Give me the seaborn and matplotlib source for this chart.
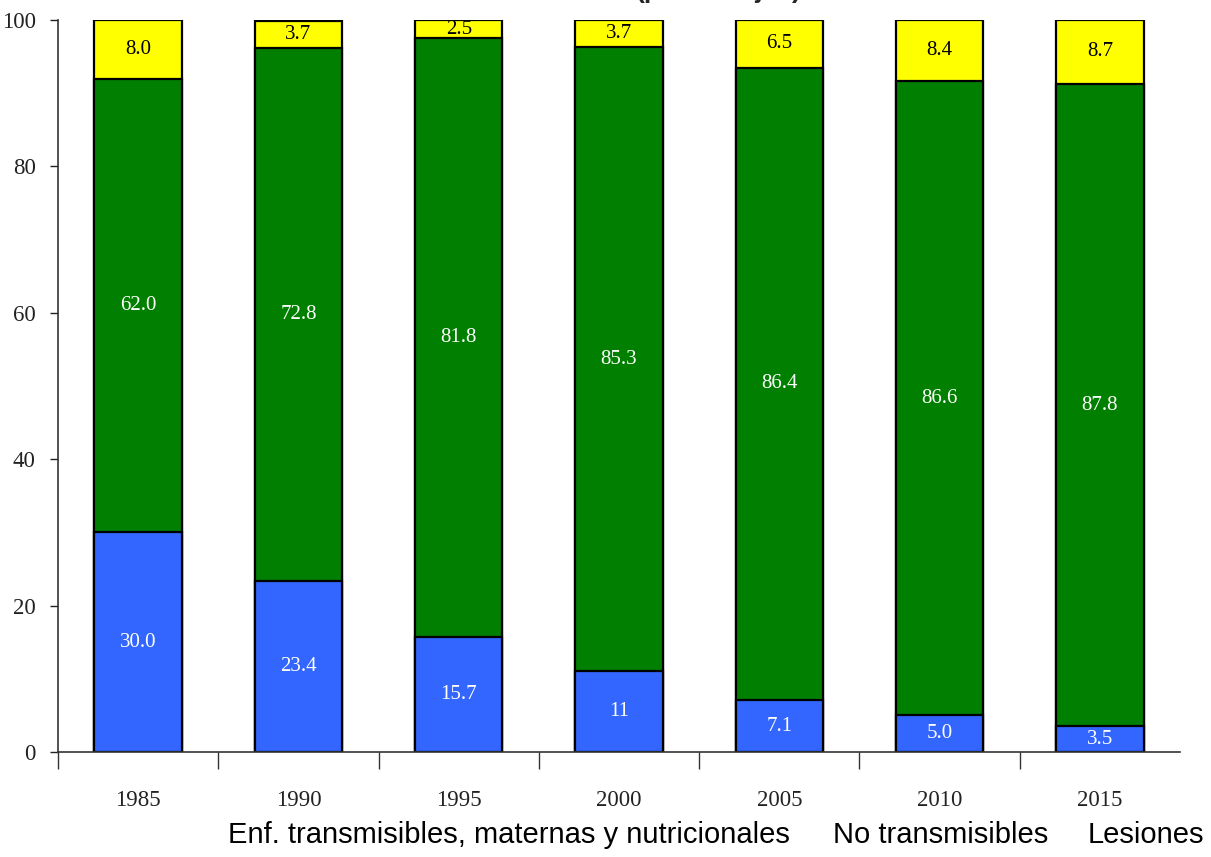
import numpy as np
import pandas as pd
import seaborn as sns
import matplotlib.pyplot as plt
from matplotlib.ticker import FixedLocator

# datos (porcentajes)
years = ["1985", "1990", "1995", "2000", "2005", "2010", "2015"]
transmisibles = [30.0, 23.4, 15.7, 11, 7.1, 5.0, 3.5]
no_transmisibles = [62.0, 72.8, 81.8, 85.3, 86.4, 86.6, 87.8]
lesiones = [8.0, 3.7, 2.5, 3.7, 6.5, 8.4, 8.7]
blue_labels = ["30.0", "23.4", "15.7", "11", "7.1", "5.0", "3.5"]
green_labels = ["62.0", "72.8", "81.8", "85.3", "86.4", "86.6", "87.8"]
yellow_labels = ["8.0", "3.7", "2.5", "3.7", "6.5", "8.4", "8.7"]
series_names = ["Enf. transmisibles, maternas y nutricionales", "No transmisibles", "Lesiones"]

sns.set_style("white")
plt.rcParams['font.family'] = ['Liberation Serif', 'DejaVu Serif']

df = pd.DataFrame({"year": years, "t": transmisibles, "nt": no_transmisibles, "l": lesiones})
df["c1"] = df["t"]
df["c2"] = df["t"] + df["nt"]
df["c3"] = df["c2"] + df["l"]

fig = plt.figure(figsize=(12.11, 8.57), dpi=100)
ax = fig.add_axes([58 / 1211, 1 - 752 / 857, 1122 / 1211, 732 / 857])

w = 0.545
edge = dict(edgecolor="black", linewidth=1.6)
sns.barplot(data=df, x="year", y="c3", color="#FFFF00", saturation=1, width=w, ax=ax, **edge)
sns.barplot(data=df, x="year", y="c2", color="#007F00", saturation=1, width=w, ax=ax, **edge)
sns.barplot(data=df, x="year", y="c1", color="#3366FF", saturation=1, width=w, ax=ax, **edge)

fs = 15
for i in range(len(years)):
    ax.text(i, df["c1"][i] / 2, blue_labels[i], ha="center", va="center", color="white", fontsize=fs)
    ax.text(i, (df["c1"][i] + df["c2"][i]) / 2, green_labels[i], ha="center", va="center",
            color="white", fontsize=fs)
    ax.text(i, (df["c2"][i] + df["c3"][i]) / 2, yellow_labels[i], ha="center", va="center",
            color="black", fontsize=fs)

ax.set_xlim(-0.5, 6.5)
ax.set_ylim(0, 100)
ax.set_yticks([0, 20, 40, 60, 80, 100])
ax.set_xlabel("")
ax.set_ylabel("")
ax.xaxis.set_minor_locator(FixedLocator([-0.5, 0.5, 1.5, 2.5, 3.5, 4.5, 5.5]))
ax.tick_params(axis="x", which="major", length=0, pad=27, labelsize=16.5, colors="#222222")
ax.tick_params(axis="x", which="minor", length=12, width=1, direction="out", bottom=True, color="#333333")
ax.tick_params(axis="y", length=6, width=1, direction="out", left=True, pad=10, labelsize=16.5,
               colors="#222222")
for s in ["top", "right"]:
    ax.spines[s].set_visible(False)
ax.spines["left"].set_color("#333333")
ax.spines["bottom"].set_color("#333333")
ax.spines["left"].set_linewidth(1.2)
ax.spines["bottom"].set_linewidth(1.2)

# titulo cortado en la parte superior (asi aparece en el original)
fig.text(0.593, 1 + 2 / 857, "(porcentajes)", ha="center", va="baseline", fontsize=19,
         fontweight="bold", family="Liberation Sans")

# leyenda solo texto
xs = [228, 833, 1088]
for x, name in zip(xs, series_names):
    fig.text(x / 1211, 1 - 843 / 857, name, ha="left", va="baseline", fontsize=21,
             family="Liberation Sans", color="black")

fig.savefig("out.png", dpi=100)
